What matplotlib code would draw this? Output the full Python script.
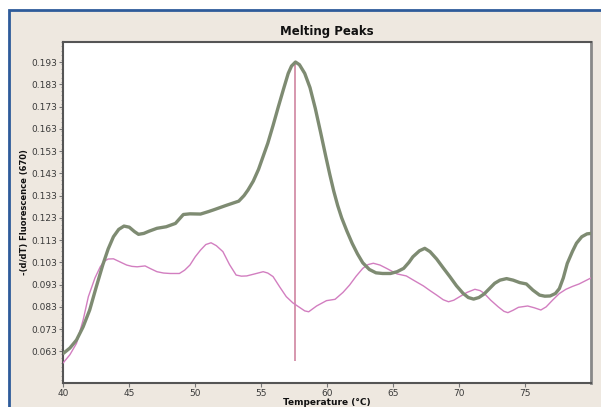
import matplotlib.pyplot as plt
from matplotlib.patches import Rectangle
from matplotlib.ticker import MultipleLocator, FormatStrFormatter

# melt curve derivative, sample (thick) and reference (thin)
sample_t = [40.0, 40.5, 41.0, 41.5, 42.0, 42.5, 43.0, 43.4, 43.8, 44.2, 44.6, 45.0,
            45.4, 45.7, 46.1, 46.5, 47.1, 47.8, 48.5, 49.1, 49.6, 50.4, 51.0, 51.4,
            52.3, 52.9, 53.3, 53.7, 54.0, 54.4, 54.8, 55.2, 55.5, 55.9, 56.3, 56.7,
            57.05, 57.3, 57.6, 57.9, 58.3, 58.7, 59.1, 59.5, 59.9, 60.2, 60.5, 60.8,
            61.1, 61.5, 61.9, 62.3, 62.7, 63.2, 63.7, 64.2, 64.8, 65.3, 65.8, 66.2,
            66.5, 67.0, 67.4, 67.8, 68.3, 68.8, 69.3, 69.8, 70.3, 70.7, 71.1, 71.5,
            71.9, 72.3, 72.7, 73.1, 73.6, 74.1, 74.6, 75.1, 75.6, 76.1, 76.5, 76.9,
            77.3, 77.6, 77.9, 78.2, 78.6, 78.9, 79.3, 79.7, 80.0]
sample_y = [0.0621, 0.0645, 0.0681, 0.0740, 0.0816, 0.0920, 0.1020, 0.1090, 0.1145,
            0.1178, 0.1193, 0.1188, 0.1168, 0.1156, 0.1160, 0.1170, 0.1183, 0.1190,
            0.1205, 0.1245, 0.1248, 0.1247, 0.1258, 0.1266, 0.1285, 0.1297, 0.1305,
            0.1330, 0.1355, 0.1395, 0.1448, 0.1515, 0.1565, 0.1645, 0.1729, 0.1810,
            0.1879, 0.1912, 0.1930, 0.1918, 0.1879, 0.1815, 0.1722, 0.1615, 0.1505,
            0.1425, 0.1350, 0.1285, 0.1230, 0.1170, 0.1115, 0.1068, 0.1028, 0.0998,
            0.0983, 0.0980, 0.0980, 0.0988, 0.1003, 0.1030, 0.1055, 0.1082, 0.1093,
            0.1078, 0.1045, 0.1005, 0.0966, 0.0925, 0.0891, 0.0872, 0.0865, 0.0872,
            0.0888, 0.0912, 0.0936, 0.0950, 0.0957, 0.0950, 0.0939, 0.0933, 0.0905,
            0.0883, 0.0878, 0.0879, 0.0890, 0.0912, 0.0960, 0.1025, 0.1080, 0.1116,
            0.1145, 0.1158, 0.1160]

ref_t = [40.0, 40.5, 41.0, 41.5, 41.9, 42.4, 42.8, 43.1, 43.4, 43.8, 44.3, 44.8, 45.2,
         45.6, 46.2, 46.6, 47.1, 47.6, 48.1, 48.8, 49.2, 49.6, 50.0, 50.4, 50.8, 51.2,
         51.6, 52.1, 52.6, 53.1, 53.5, 53.9, 54.5, 55.15, 55.5, 55.9, 56.4, 56.9, 57.4,
         57.9, 58.3, 58.6, 59.2, 59.95, 60.6, 61.2, 61.7, 62.2, 62.7, 63.1, 63.5, 64.0,
         64.5, 65.3, 66.0, 66.6, 67.3, 67.8, 68.3, 68.8, 69.2, 69.6, 70.05, 70.6, 71.2,
         71.6, 71.9, 72.4, 72.95, 73.4, 73.7, 74.1, 74.5, 75.2, 75.7, 76.2, 76.6, 77.1,
         77.6, 78.1, 78.6, 79.1, 79.5, 80.0]
ref_y = [0.0579, 0.0615, 0.0666, 0.0770, 0.0876, 0.0960, 0.1010, 0.1035, 0.1045, 0.1046,
         0.1032, 0.1018, 0.1012, 0.1010, 0.1014, 0.1002, 0.0988, 0.0982, 0.0980, 0.0980,
         0.0995, 0.1018, 0.1055, 0.1085, 0.1110, 0.1118, 0.1105, 0.1078, 0.1020, 0.0973,
         0.0968, 0.0969, 0.0978, 0.0988, 0.0982, 0.0966, 0.0920, 0.0876, 0.0848, 0.0828,
         0.0812, 0.0808, 0.0834, 0.0858, 0.0864, 0.0895, 0.0928, 0.0968, 0.1003, 0.1020,
         0.1026, 0.1018, 0.1003, 0.0978, 0.0969, 0.0948, 0.0924, 0.0903, 0.0883, 0.0862,
         0.0853, 0.0860, 0.0876, 0.0895, 0.0909, 0.0903, 0.0891, 0.0860, 0.0831, 0.0810,
         0.0804, 0.0815, 0.0828, 0.0834, 0.0826, 0.0816, 0.0830, 0.0861, 0.0890, 0.0909,
         0.0922, 0.0933, 0.0945, 0.0960]

# Tm marker
peak_t = 57.6
peak_lo, peak_hi = 0.0585, 0.193

beige = '#EEE8E0'
fig = plt.figure(figsize=(6.01, 4.07), dpi=100, facecolor='white')
fig.patches.append(Rectangle((9 / 601, -0.05), 1.0, (407 - 10) / 407 + 0.05,
                             transform=fig.transFigure, facecolor=beige,
                             edgecolor='#2E5B9A', linewidth=2, zorder=-5))

ax = fig.add_axes([63.3 / 601, 1 - 383 / 407, (591 - 63.3) / 601, (383 - 42) / 407])
ax.set_facecolor('white')

ax.vlines(peak_t, peak_lo, peak_hi, color='#D38FA8', lw=1.3, zorder=2)
ax.plot(ref_t, ref_y, color='#D27EC0', lw=1.0, solid_joinstyle='round', zorder=3)
ax.plot(sample_t, sample_y, color='#7E8B72', lw=2.4, solid_joinstyle='round',
        solid_capstyle='round', zorder=4)

ax.set_xlim(40, 80)
ax.set_ylim(0.0488, 0.2020)
ax.set_xticks([40, 45, 50, 55, 60, 65, 70, 75])
ax.set_yticks([0.063 + 0.01 * i for i in range(14)])
ax.yaxis.set_major_formatter(FormatStrFormatter('%.3f'))
ax.yaxis.set_minor_locator(MultipleLocator(0.002))
ax.tick_params(axis='both', which='major', length=3, width=0.8, color='#777777',
               labelsize=6.5, labelcolor='#3A3A3A', pad=1.5)
ax.tick_params(axis='y', which='minor', length=1.5, width=0.6, color='#999999')

for side in ['left', 'bottom', 'top']:
    ax.spines[side].set_color('#555555')
    ax.spines[side].set_linewidth(1.5)
ax.spines['right'].set_color('#888888')
ax.spines['right'].set_linewidth(2)

ax.set_title('Melting Peaks', fontsize=8.5, fontweight='bold', color='#111111', pad=5)
ax.set_xlabel('Temperature (°C)', fontsize=6.5, fontweight='bold', color='#111111')
ax.set_ylabel('-(d/dT) Fluorescence (670)', fontsize=6, fontweight='bold', color='#111111')
ax.xaxis.set_label_coords(0.5, -0.058)
ax.yaxis.set_label_coords(-0.073, 0.5)
ax.xaxis.label.set_va('center')
ax.yaxis.label.set_va('center')

fig.savefig('out.png', dpi=100, facecolor=fig.get_facecolor())
